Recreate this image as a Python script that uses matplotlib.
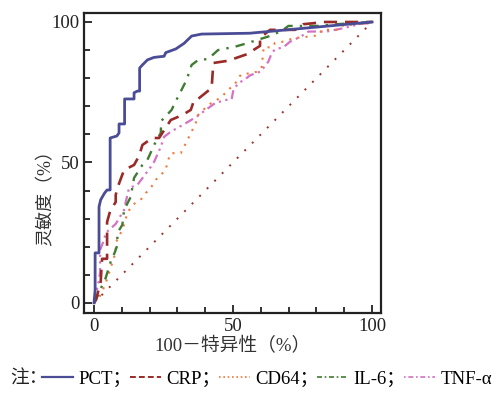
import matplotlib
matplotlib.use("Agg")
import matplotlib.pyplot as plt
from matplotlib.lines import Line2D

plt.rcParams['font.family'] = ['Liberation Serif', 'Noto Sans CJK SC']

# ---- data (x = 100 - specificity %, y = sensitivity %) ----
pct_x = [0, 0.4, 0.4, 1.8, 1.8, 2.4, 3.8, 4.7, 5.8, 5.8, 8.2, 9.0, 9.0, 11.0, 11.0, 14.4, 14.4,
         15.6, 16.4, 16.4, 17.4, 19.2, 21.6, 25.2, 25.8, 29.4, 32.4, 35.1, 38.7, 56.0, 100]
pct_y = [0, 4.6, 17.8, 17.8, 34.2, 36.7, 39.1, 40.2, 40.2, 58.7, 59.4, 60.5, 63.7, 63.7, 72.6, 72.6, 74.8,
         75.4, 75.4, 83.6, 84.7, 86.5, 87.4, 87.8, 89.1, 90.4, 92.4, 95.0, 95.7, 96.0, 100]

crp_x = [0, 0.7, 2.4, 2.9, 4.7, 4.7, 5.8, 7.8, 7.8, 8.4, 10.8, 14.4, 16.2, 17.4, 20.9, 23.4, 27.6,
         31.8, 34.8, 36.0, 37.4, 42.3, 42.9, 48.2, 54.9, 59.7, 59.7, 63.3, 72.3, 75.2, 83.1, 100]
crp_y = [0, 1.1, 7.5, 15.7, 15.7, 28.8, 32.7, 35.9, 38.4, 40.9, 47.3, 49.1, 52.3, 56.2, 58.7, 58.7, 65.1,
         66.9, 68.7, 72.2, 72.6, 76.5, 85.4, 86.2, 88.5, 91.5, 94.3, 97.2, 97.2, 99.2, 100, 100]

cd64_x = [0, 1.8, 4.0, 6.0, 7.8, 7.8, 9.6, 10.8, 12.0, 13.8, 16.8, 18.6, 20.4, 22.2, 24.0, 25.8, 26.4,
          27.6, 31.2, 33.0, 34.8, 36.6, 36.9, 41.1, 44.1, 45.9, 47.7, 48.9, 50.7, 51.3, 53.1, 56.1,
          58.5, 60.3, 60.3, 60.9, 60.9, 64.3, 65.1, 68.1, 70.5, 72.3, 75.3, 77.7, 80.7, 81.9, 87.9,
          89.7, 94.5, 100]
cd64_y = [0, 1.8, 6.4, 12.5, 18.1, 21.4, 24.9, 27.8, 32.0, 34.9, 36.7, 39.1, 40.9, 43.8, 45.6, 47.3, 50.2,
          53.3, 53.3, 56.8, 60.4, 64.0, 66.3, 70.5, 72.2, 73.4, 75.2, 76.4, 77.6, 79.4, 81.5, 81.7,
          82.3, 83.5, 85.5, 88.3, 91.0, 91.0, 92.6, 93.0, 93.8, 94.4, 94.4, 95.1, 95.1, 97.2, 97.2,
          98.9, 99.2, 99.7]

il6_x = [0, 0.7, 2.2, 4.2, 6.2, 7.4, 8.4, 8.4, 10.2, 10.8, 13.2, 14.4, 17.4, 19.2, 21.6, 24.0, 24.2,
         27.9, 29.1, 30.9, 33.3, 35.1, 37.5, 41.0, 44.6, 50.7, 54.9, 56.8, 62.6, 67.5, 69.9, 80.6,
         88.5, 100]
il6_y = [0, 1.1, 4.6, 8.9, 15.3, 17.8, 20.6, 24.9, 27.8, 33.1, 37.7, 44.5, 49.1, 50.9, 56.2, 60.5, 64.8,
         68.7, 71.2, 74.7, 79.4, 84.7, 86.5, 86.8, 90.0, 91.2, 92.4, 93.0, 94.8, 96.8, 98.6, 98.6,
         99.3, 100]

tnf_x = [0, 0.6, 1.0, 1.8, 2.2, 2.2, 3.6, 4.2, 7.8, 10.8, 11.4, 12.6, 15.6, 20.4, 21.6, 24.0, 25.2,
         27.0, 28.8, 31.8, 33.9, 36.9, 43.5, 47.1, 49.5, 50.1, 51.9, 54.3, 56.1, 59.7, 60.9, 62.7,
         63.9, 65.1, 68.1, 70.5, 72.3, 75.3, 77.1, 83.7, 89.7, 95.7, 100]
tnf_y = [0, 2.1, 4.6, 8.2, 11.0, 18.9, 22.4, 24.9, 28.1, 33.1, 35.9, 40.9, 42.0, 48.4, 50.2, 55.5, 59.1,
         60.5, 61.6, 63.3, 64.5, 66.3, 71.1, 72.2, 72.5, 75.8, 78.2, 79.6, 81.0, 82.3, 83.6, 85.9,
         88.9, 90.3, 91.0, 93.0, 93.8, 95.4, 96.6, 96.6, 97.8, 99.3, 99.7]

ref_x = [0, 100]
ref_y = [0, 100]

labels = ['PCT；', 'CRP；', 'CD64；', 'IL-6；', 'TNF-α']
xticks = [0, 50, 100]
yticks = [0, 50, 100]
xlabel = '100－特异性（%）'
ylabel = '灵敏度（%）'
note = '注：'

c_pct = '#4b4c96'
c_crp = '#9a2a28'
c_cd64 = '#f0783a'
c_il6 = '#3f7c32'
c_tnf = '#d472c4'
c_ref = '#9a3430'

fig = plt.figure(figsize=(5.01, 3.95), dpi=100)
ax = fig.add_axes([84/501, 1-313/395, (381-84)/501, (313-13)/395])

ax.plot(ref_x, ref_y, color=c_ref, lw=1.4, ls=(0, (1, 4.5)))
ax.plot(tnf_x, tnf_y, color=c_tnf, lw=1.6, ls=(0, (4, 2, 1, 2, 1, 2)))
ax.plot(cd64_x, cd64_y, color=c_cd64, lw=1.5, ls=(0, (1, 3)))
ax.plot(il6_x, il6_y, color=c_il6, lw=1.7, ls=(0, (4, 3, 1, 3)))
ax.plot(crp_x, crp_y, color=c_crp, lw=1.9, ls=(0, (5, 3)))
ax.plot(pct_x, pct_y, color=c_pct, lw=2.0)

ax.set_xlim(-3.6, 103.2)
ax.set_ylim(-3.6, 103.2)
ax.set_xticks(xticks)
ax.set_yticks(yticks)
ax.set_xticks(range(0, 101, 10), minor=True)
ax.set_yticks(range(0, 101, 10), minor=True)
ax.tick_params(which='both', direction='in', top=False, right=False, width=1.3, colors='#222222',
               labelsize=13.5, labelcolor='#222222')
ax.tick_params(which='major', length=6)
ax.tick_params(which='minor', length=4)
for s in ax.spines.values():
    s.set_linewidth(1.6)
    s.set_color('#222222')

ax.set_xlabel(xlabel, fontsize=13.5, color='#333333', labelpad=2)
ax.set_ylabel(ylabel, fontsize=13, color='#333333')
ax.yaxis.set_label_coords(-0.10, 0.40)

handles = [
    Line2D([], [], color=c_pct, lw=1.6),
    Line2D([], [], color=c_crp, lw=1.4, ls=(0, (3, 1.6))),
    Line2D([], [], color=c_cd64, lw=1.2, ls=(0, (1, 1.6))),
    Line2D([], [], color=c_il6, lw=1.2, ls=(0, (3, 1.6, 1, 1.6))),
    Line2D([], [], color=c_tnf, lw=1.2, ls=(0, (1, 1.6, 3, 1.6))),
]
fig.legend(handles, labels, loc='center left', bbox_to_anchor=(42/501, 1-379/395), ncol=5,
           frameon=False, fontsize=13.5, handlelength=1.65, handletextpad=0.3,
           columnspacing=-0.1, borderaxespad=0, borderpad=0)
fig.text(10/501, 1-379/395, note, fontsize=13.5, va='center', ha='left', color='#222222')

fig.savefig('out.png', dpi=100)
